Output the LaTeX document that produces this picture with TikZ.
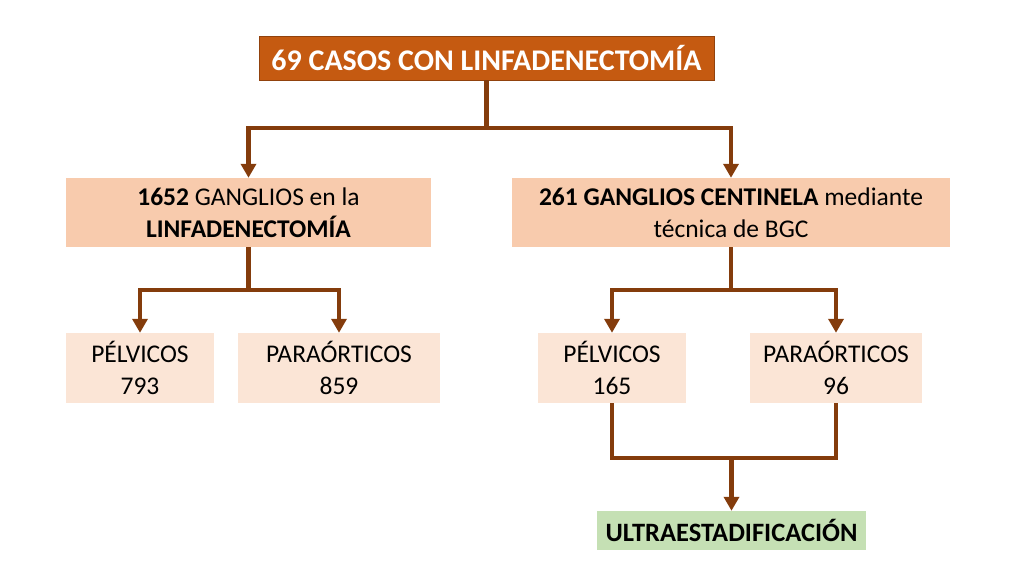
\documentclass[tikz,border=0pt]{standalone}
\usepackage{fontspec}
\setmainfont{Carlito}
\usetikzlibrary{arrows.meta}
\definecolor{linkbrown}{HTML}{843C0C}
\definecolor{topfill}{HTML}{C55A11}
\definecolor{midfill}{HTML}{F8CBAD}
\definecolor{lowfill}{HTML}{FBE5D6}
\definecolor{endfill}{HTML}{C5E0B4}

\begin{document}
\begin{tikzpicture}[x=1pt,y=-1pt,
  box/.style={inner sep=0pt, align=center, font=\fontsize{25.5}{31.5}\selectfont},
  topbox/.style={box, fill=topfill, draw=linkbrown!80!topfill, line width=0.8pt,
    text=white, font=\fontsize{30}{32}\selectfont\bfseries,
    minimum width=455pt, minimum height=44pt},
  midbox/.style={box, fill=midfill, minimum height=69pt},
  lowbox/.style={box, fill=lowfill, minimum height=70pt},
  endbox/.style={box, fill=endfill, font=\fontsize{26.5}{30}\selectfont\bfseries,
    minimum width=269pt, minimum height=39pt},
  conn/.style={draw=linkbrown, line width=4.5pt},
  link/.style={conn, -{Triangle[width=15pt,length=14pt]}},
]
  \useasboundingbox (0,0) rectangle (1024,576);

  % Boxes
  \node[topbox] (casos) at (486.5,58) {69 CASOS CON LINFADENECTOMÍA};
  \node[midbox, minimum width=365pt] (linf) at (248.5,212.5)
    {\textbf{1652} GANGLIOS en la\\ \textbf{LINFADENECTOMÍA}};
  \node[midbox, minimum width=438pt] (cent) at (731,212.5)
    {\textbf{261 GANGLIOS CENTINELA} mediante\\ técnica de BGC};
  \node[lowbox, minimum width=148pt] (pelvL) at (140,368) {PÉLVICOS\\ 793};
  \node[lowbox, minimum width=202pt] (paraL) at (339,368) {PARAÓRTICOS\\ 859};
  \node[lowbox, minimum width=148pt] (pelvR) at (612,368) {PÉLVICOS\\ 165};
  \node[lowbox, minimum width=172pt] (paraR) at (836,368) {PARAÓRTICOS\\ 96};
  \node[endbox] (ultra) at (731.5,530.5) {ULTRAESTADIFICACIÓN};

  % Junctions
  \coordinate (jtop) at (486.5,128);
  \coordinate (jlinf) at (248.5,290);
  \coordinate (jcent) at (731,290);
  \coordinate (jend) at (731.5,458);

  % Connectors
  \draw[conn] (casos.south) -- (jtop);
  \draw[link] (jtop) -| (linf);
  \draw[link] (jtop) -| (cent);
  \draw[conn] (linf.south) -- (jlinf);
  \draw[link] (jlinf) -| (pelvL);
  \draw[link] (jlinf) -| (paraL);
  \draw[conn] (cent.south) -- (jcent);
  \draw[link] (jcent) -| (pelvR);
  \draw[link] (jcent) -| (paraR);
  \draw[conn] (pelvR.south) |- (jend) -| (paraR.south);
  \draw[link] (jend) -- (ultra);
\end{tikzpicture}
\end{document}
